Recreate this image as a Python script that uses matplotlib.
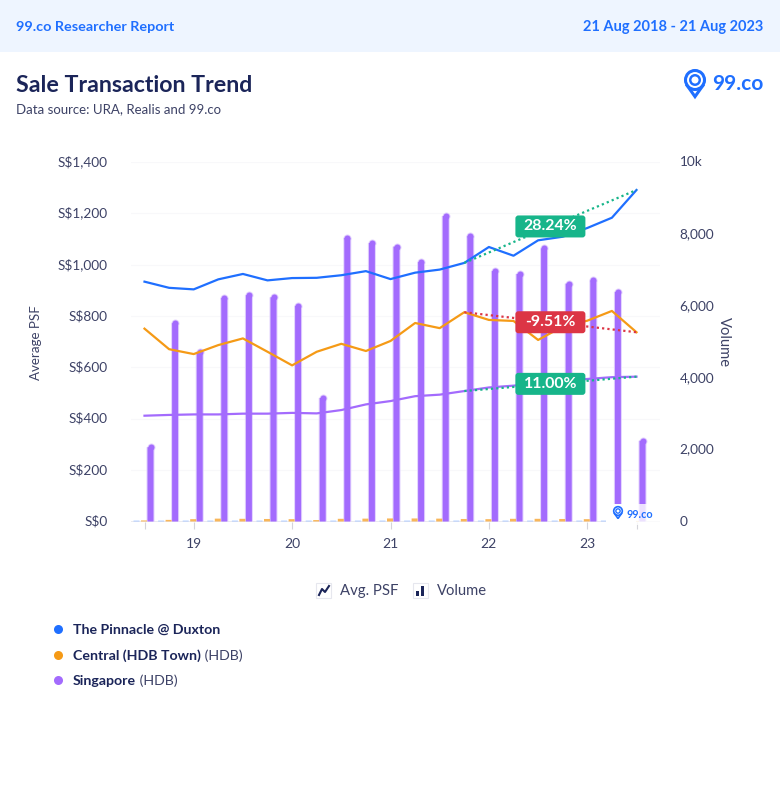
import matplotlib
matplotlib.use("Agg")
import matplotlib.pyplot as plt
from matplotlib.patches import Rectangle, FancyBboxPatch, Circle, Polygon
from matplotlib.lines import Line2D
from matplotlib.transforms import ScaledTranslation
import numpy as np

plt.rcParams['font.family'] = ['Lato', 'DejaVu Sans']

NAVY = '#1b2559'
GREY = '#3d4266'
BLUE = '#1f6fff'
ORANGE = '#f59a16'
PURPLE = '#a36bfd'
GREEN = '#17b58a'
RED = '#dc3545'

periods = list(range(21))
tick_positions = [2, 6, 10, 14, 18]
tick_labels = ['19', '20', '21', '22', '23']
psf_ticks = [0, 200, 400, 600, 800, 1000, 1200, 1400]
vol_ticks = [0, 2000, 4000, 6000, 8000, 10000]
vol_tick_labels = ['0', '2,000', '4,000', '6,000', '8,000', '10k']

pinnacle_psf = [934, 910, 904, 943, 964, 939, 948, 949, 959, 975, 944, 969, 981,
                1007, 1069, 1035, 1095, 1109, 1143, 1183, 1291]
central_psf = [751, 671, 652, 687, 713, 661, 608, 661, 692, 664, 703, 773, 753,
               815, 785, 781, 707, 759, 782, 820, 737]
singapore_psf = [412, 415, 417, 417, 420, 420, 423, 421, 434, 456, 469, 488, 494,
                 508, 522, 529, 538, 548, 555, 562, 564]
singapore_vol = [2150, 5600, 4800, 6300, 6380, 6320, 6080, 3520, 7970, 7830, 7730,
                 7300, 8580, 8020, 7050, 6970, 7680, 6700, 6790, 6470, 2330]
central_vol = [30, 45, 65, 80, 75, 70, 65, 40, 75, 80, 85, 85, 80,
               70, 65, 75, 75, 70, 65, 40, 15]
pinnacle_vol = [25, 25, 25, 25, 25, 25, 25, 25, 25, 25, 25, 25, 25,
                25, 25, 25, 25, 25, 25, 25, 15]
trend_labels = ['28.24%', '-9.51%', '11.00%']
legend_names = ['The Pinnacle @ Duxton', 'Central (HDB Town)', 'Singapore']
legend_suffix = ['', ' (HDB)', ' (HDB)']

W, H = 780, 800
fig = plt.figure(figsize=(W / 100, H / 100), dpi=100, facecolor='white')


def fx(x): return x / W
def fy(y): return 1 - y / H


# header band
fig.patches.append(Rectangle((0, fy(52)), 1, 52 / H, transform=fig.transFigure,
                             facecolor='#eef5ff', edgecolor='none'))
fig.text(fx(16), fy(27), '99.co Researcher Report', color=BLUE, fontsize=10.4,
         fontweight='bold', va='center')
fig.text(fx(763), fy(27), '21 Aug 2018 - 21 Aug 2023', color=BLUE, fontsize=10.5,
         fontweight='bold', va='center', ha='right')
fig.text(fx(16), fy(85), 'Sale Transaction Trend', color=NAVY, fontsize=16.7,
         fontweight='bold', va='center')
fig.text(fx(16), fy(109), 'Data source: URA, Realis and 99.co', color=GREY,
         fontsize=9.5, va='center')

# axes: category i at 144.5 + 24.6 i
x_left, x_right = 131, 660
y_top, y_bot = 162, 521.5
ax = fig.add_axes([fx(x_left), fy(y_bot), (x_right - x_left) / W, (y_bot - y_top) / H])
ax2 = ax.twinx()
step = 24.6
ax.set_xlim((x_left - 144.5) / step, (x_right - 144.5) / step)
ax.set_ylim(0, 1400)
ax2.set_ylim(0, 10000)
ax.set_zorder(2)
ax2.set_zorder(1)
ax.patch.set_visible(False)

for a in (ax, ax2):
    for s in a.spines.values():
        s.set_visible(False)

for v in psf_ticks[1:]:
    ax2.axhline(v * 10000 / 1400, color='#f8f8fa', lw=0.8, zorder=0)
ax2.axhline(0, color='#e6e6ec', lw=1.2, zorder=0)

offs = np.array(periods, dtype=float)
bar_w = 6.0 / step
bar_x = offs + 6 / step
# rounded tops: the cap ends at the value, so the straight part stops one radius lower
cap_drop = 3 * 10000 / (y_bot - y_top)
bar_body = np.array(singapore_vol, dtype=float) - cap_drop
ax2.bar(bar_x, bar_body, width=bar_w + 2.0 / step, color='#e2d2fe',
        zorder=2, edgecolor='none', snap=False)
ax2.scatter(bar_x, bar_body, s=33, marker='o', color='#e2d2fe', zorder=2, linewidths=0)
ax2.bar(bar_x, bar_body, width=bar_w, color=PURPLE, zorder=3, edgecolor='none', snap=False)
ax2.scatter(bar_x, bar_body, s=18.7, marker='o', color=PURPLE, zorder=3, linewidths=0)

# the other two series have very small volumes
ax2.bar(offs - 0.5 / step, central_vol, width=bar_w, color='#f8b659', zorder=3, edgecolor='none', snap=False)
ax2.bar(offs - 8 / step, pinnacle_vol, width=bar_w, color='#a9c8ff', zorder=3, edgecolor='none', snap=False)

# lines
ax.plot(periods, pinnacle_psf, color=BLUE, lw=1.6, zorder=5)
ax.plot(periods, central_psf, color=ORANGE, lw=1.6, zorder=5)
ax.plot(periods, singapore_psf, color=PURPLE, lw=1.6, zorder=5)

# trend dotted lines
start = 13
end = 20
for series, c in ((pinnacle_psf, GREEN), (central_psf, RED), (singapore_psf, GREEN)):
    ax.plot([start, end], [series[start], series[end]], color=c, lw=1.6, ls=(0, (1, 1.4)), zorder=6)

# trend labels
for series, c, lab in zip((pinnacle_psf, central_psf, singapore_psf), (GREEN, RED, GREEN), trend_labels):
    ymid = (series[start] + series[end]) / 2
    xmid = (start + end) / 2
    px, py = ax.transData.transform((xmid, ymid))
    bw, bh = 70, 22
    ax.add_patch(FancyBboxPatch((px - bw / 2 + 3, py - bh / 2 + 3), bw - 6, bh - 6,
                                boxstyle='round,pad=3,rounding_size=3', transform=None,
                                facecolor=c, edgecolor='none', zorder=7))
    ax.annotate(lab, (px, py), xycoords='figure pixels', color='white', fontsize=11.4,
                fontweight='bold', ha='center', va='center', zorder=8)

# ticks
ax.set_yticks(psf_ticks)
ax.set_yticklabels([f'S$ {v:,}'.replace(' ', '') for v in psf_ticks], color=GREY, fontsize=9.8)
ax2.set_yticks(vol_ticks)
ax2.set_yticklabels(vol_tick_labels, color=GREY, fontsize=9.8)
ax.tick_params(axis='y', length=0, pad=17)
ax2.tick_params(axis='y', length=0, pad=14)
for lab in ax.get_yticklabels():
    lab.set_transform(lab.get_transform() + ScaledTranslation(0, 1.3 / 100, fig.dpi_scale_trans))
for lab in ax2.get_yticklabels():
    lab.set_transform(lab.get_transform() + ScaledTranslation(0, 1.0 / 100, fig.dpi_scale_trans))
ax.set_xticks(tick_positions)
ax.set_xticks([0, 20], minor=True)
ax.set_xticklabels(tick_labels, color=GREY, fontsize=10)
ax.tick_params(axis='x', which='both', length=5, color='#d4d4da', width=0.8, pad=7)
fig.text(fx(36.5), fy(343), 'Average PSF', rotation=90, color=GREY, fontsize=9.6, ha='center', va='center')
fig.text(fx(724), fy(342), 'Volume', rotation=270, color=GREY, fontsize=10.6, ha='center', va='center')

# chart-type legend
fig.text(fx(340), fy(591), 'Avg. PSF', color=GREY, fontsize=10.7, va='center')
fig.text(fx(437), fy(591), 'Volume', color=GREY, fontsize=10.6, va='center')
for bx in (316, 413):
    fig.patches.append(Rectangle((fx(bx), fy(598)), 15 / W, 15 / H, transform=fig.transFigure,
                                 facecolor='white', edgecolor='#e6e7ee', lw=0.8))
fig.lines.append(Line2D([fx(319), fx(322), fx(325), fx(329)], [fy(595), fy(589), fy(592), fy(586)],
                        transform=fig.transFigure, color=NAVY, lw=1.5))
for bx, top in ((416, 591), (420.5, 586)):
    fig.patches.append(Rectangle((fx(bx), fy(596)), 3.2 / W, (596 - top) / H, transform=fig.transFigure,
                                 facecolor=NAVY, edgecolor='none'))

# series legend
for yy, c, name, suf in zip((629, 655, 680), (BLUE, ORANGE, PURPLE), legend_names, legend_suffix):
    fig.lines.append(Line2D([fx(58)], [fy(yy)], transform=fig.transFigure, marker='o', ms=6.5,
                            color=c, mec='none'))
    t = fig.text(fx(73), fy(yy + 0.8), name, color=NAVY, fontsize=10.2, fontweight='bold', va='center')
    if suf:
        fig.canvas.draw()
        bb = t.get_window_extent()
        fig.text(bb.x1 / W, fy(yy + 0.8), suf, color=GREY, fontsize=10.2, va='center')


def logo(cx, cy, r, tx, fs, lw, dy):
    """Pin logo; pixel coordinates."""
    fa = fig.add_axes([0, 0, 1, 1], facecolor='none', zorder=10)
    fa.set_xlim(0, W)
    fa.set_ylim(H, 0)
    fa.axis('off')
    fa.add_patch(Polygon([[cx - r * 0.92, cy + r * 0.45], [cx, cy + r * 1.75], [cx + r * 0.92, cy + r * 0.45]],
                 closed=False, facecolor='none', edgecolor=BLUE, lw=lw))
    fa.add_patch(Circle((cx, cy), r, facecolor='none', edgecolor=BLUE, lw=lw))
    fa.add_patch(Circle((cx, cy), r * 0.5, facecolor='none', edgecolor=BLUE, lw=lw * 0.8))
    fa.text(tx, cy + dy, '99.co', color=BLUE, fontsize=fs, fontweight='bold', va='center')


logo(695, 80, 9.5, 712, 15, 2.2, 4.5)

fa = fig.add_axes([0, 0, 1, 1], facecolor='none', zorder=9)
fa.set_xlim(0, W)
fa.set_ylim(H, 0)
fa.axis('off')
# watermark backdrop over the last bars
fa.add_patch(Rectangle((606, 503.5), 30, 21, facecolor='white', edgecolor='none'))
fa.add_patch(Rectangle((636, 503.5), 24, 21, facecolor='white', alpha=0.8, edgecolor='none'))
logo(618, 511, 4.3, 626.5, 7.8, 1.2, 3)

fig.savefig('out.png', dpi=100)
